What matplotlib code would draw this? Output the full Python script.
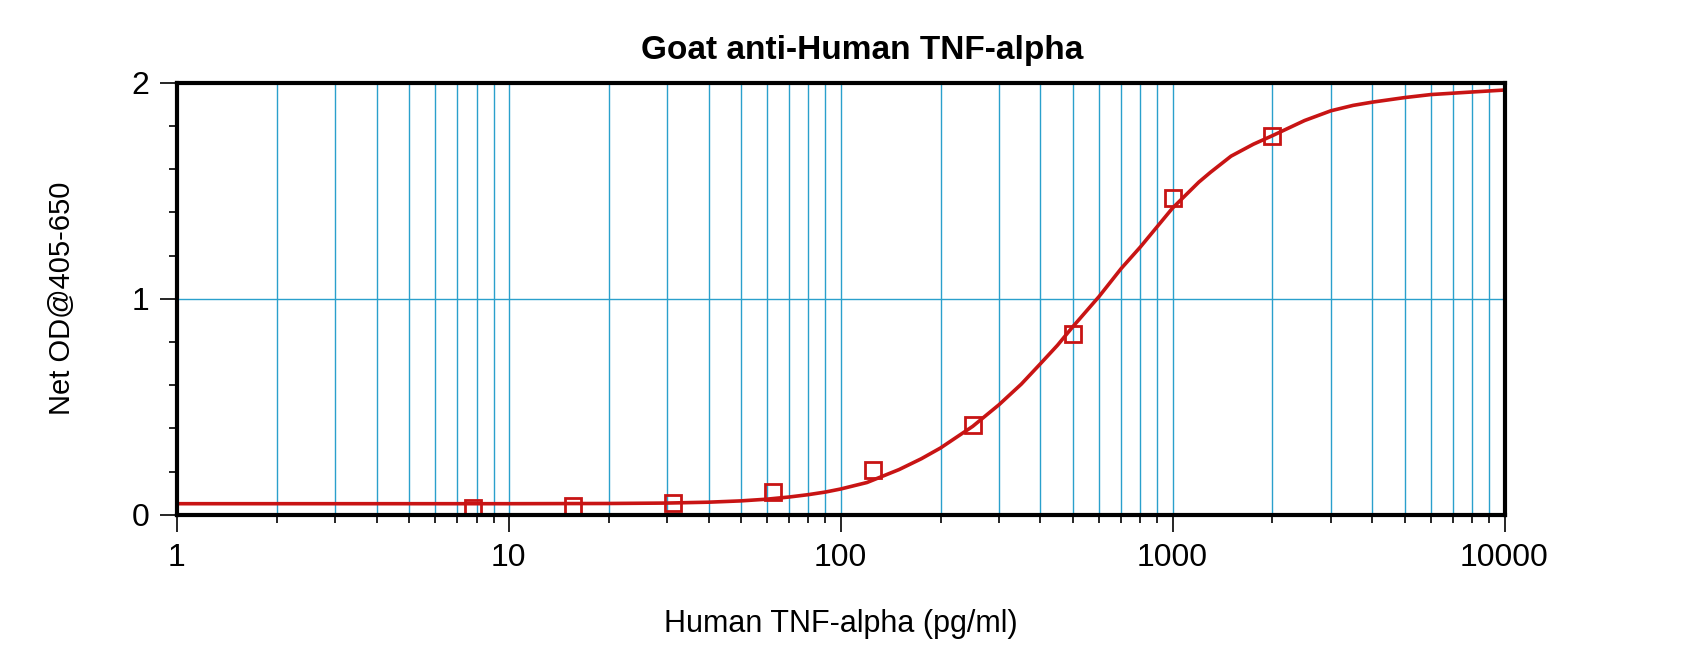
import numpy as np
import matplotlib
matplotlib.use('Agg')
import matplotlib.pyplot as plt
from matplotlib.ticker import LogLocator, MultipleLocator, FixedLocator, NullFormatter, FixedFormatter

plt.rcParams['font.family'] = ['Liberation Sans', 'DejaVu Sans']

# standard concentrations (pg/ml) and measured net OD
conc = [7.8, 15.6, 31.25, 62.5, 125, 250, 500, 1000, 2000]
od = [0.032, 0.042, 0.054, 0.108, 0.208, 0.415, 0.836, 1.465, 1.751]

# fitted curve
fit_x = [1, 10, 20, 30, 40, 50, 60, 70, 80, 90, 100, 120, 150, 175, 200, 250, 300,
         350, 400, 450, 500, 600, 700, 800, 900, 1000, 1200, 1300, 1500, 1750, 2000,
         2500, 3000, 3500, 4000, 5000, 6000, 8000, 10000]
fit_y = [0.052, 0.052, 0.053, 0.055, 0.059, 0.065, 0.073, 0.083, 0.094, 0.106, 0.12,
         0.15, 0.21, 0.26, 0.31, 0.41, 0.51, 0.605, 0.70, 0.785, 0.87, 1.01, 1.14,
         1.24, 1.335, 1.42, 1.54, 1.585, 1.66, 1.715, 1.755, 1.825, 1.87, 1.895,
         1.91, 1.931, 1.945, 1.957, 1.966]

x_ticks = [1, 10, 100, 1000, 10000]
x_labels = ['1', '10', '100', '1000', '10000']
y_ticks = [0, 1, 2]

grid_col = '#2aa0cc'
red = '#c81414'

fig = plt.figure(figsize=(17, 6.51), dpi=100)
ax = fig.add_axes([0.104, 0.209, 0.781, 0.664])

ax.set_xscale('log')
ax.set_xlim(1, 10000)
ax.set_ylim(0, 2)

# vertical grid at every minor/major decade step
ax.xaxis.set_major_locator(FixedLocator(x_ticks))
ax.xaxis.set_major_formatter(FixedFormatter(x_labels))
ax.xaxis.set_minor_locator(LogLocator(base=10, subs=np.arange(2, 10), numticks=20))
ax.xaxis.set_minor_formatter(NullFormatter())
ax.grid(True, which='both', axis='x', color=grid_col, linewidth=1.0)

ax.yaxis.set_major_locator(FixedLocator(y_ticks))
ax.yaxis.set_minor_locator(MultipleLocator(0.2))
ax.grid(True, which='major', axis='y', color=grid_col, linewidth=1.0)
ax.set_axisbelow(True)

ax.plot(fit_x, fit_y, color=red, linewidth=2.6, zorder=3)
ax.plot(conc, od, linestyle='none', marker='s', markersize=11.5,
        markerfacecolor='none', markeredgecolor=red, markeredgewidth=2.0, zorder=4)

for s in ax.spines.values():
    s.set_linewidth(3)
    s.set_color('black')
    s.set_zorder(5)

ax.tick_params(which='major', direction='out', length=12, width=1.2, labelsize=23, pad=8)
ax.tick_params(which='minor', direction='out', length=6, width=1.2)

fig.text(0.507, 0.922, 'Goat anti-Human TNF-alpha', ha='center', va='center',
         fontsize=24, fontweight='bold')
ax.set_xlabel('Human TNF-alpha (pg/ml)', fontsize=22, labelpad=26)
ax.set_ylabel('Net OD@405-650', fontsize=21, labelpad=40)

plt.savefig('out.png', dpi=100)
plt.close()
print("Saved: out.png")
